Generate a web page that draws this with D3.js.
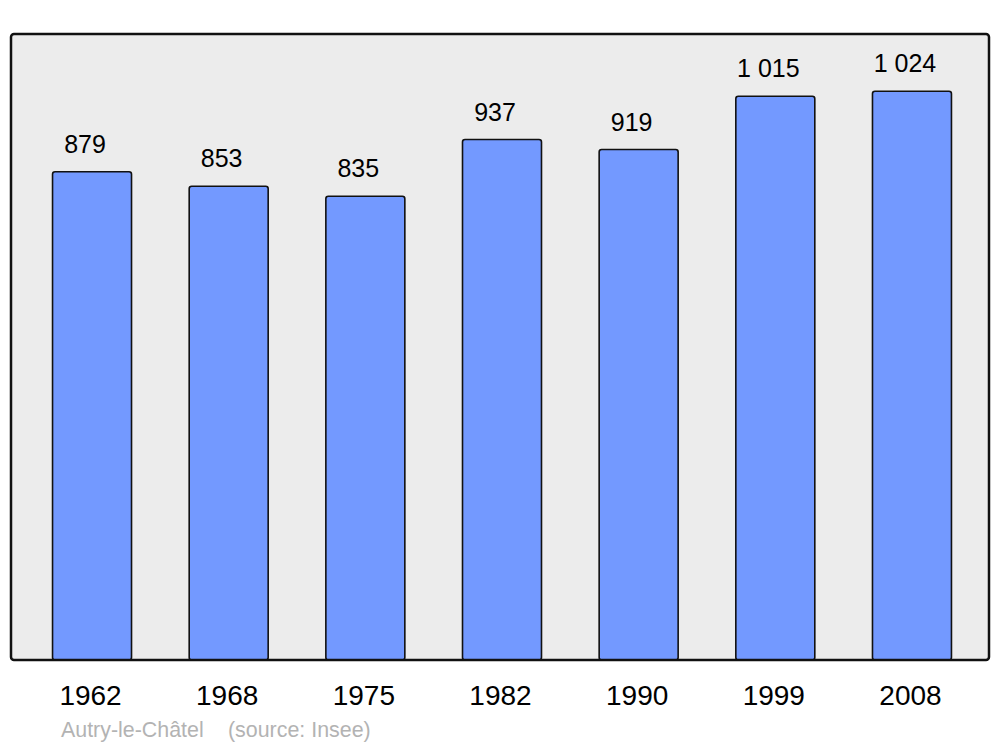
<!DOCTYPE html>
<html>
<head>
<meta charset="utf-8">
<script src="https://cdn.jsdelivr.net/npm/d3@7"></script>
<style>
  body { margin: 0; background: #fff; }
  text { font-family: "Liberation Sans", Arial, sans-serif; }
</style>
</head>
<body>
<svg id="chart"></svg>
<script>
var years = ["1962", "1968", "1975", "1982", "1990", "1999", "2008"];
var population = [879, 853, 835, 937, 919, 1015, 1024];
var commune = "Autry-le-Châtel";
var sourceNote = "(source: Insee)";

var width = 1000, height = 747;
var frame = {left: 11, right: 989, top: 34, bottom: 660};

var svg = d3.select("#chart")
    .attr("width", width)
    .attr("height", height);

// background panel
svg.append("rect")
    .attr("x", frame.left).attr("y", frame.top)
    .attr("width", frame.right - frame.left)
    .attr("height", frame.bottom - frame.top)
    .attr("rx", 3).attr("ry", 3)
    .style("fill", "#ececec");

var x = d3.scaleBand()
    .domain(years)
    .range([23.7, 980.3])
    .paddingInner(0.422)
    .paddingOuter(0.211);

var y = d3.scaleLinear()
    .domain([0, 1127])
    .range([frame.bottom, frame.top]);

var fr = d3.formatLocale({decimal: ",", thousands: " ", grouping: [3], currency: ["", " €"]});
var fmt = fr.format(",d");

var data = years.map(function (d, i) { return [d, population[i]]; });

svg.selectAll("rect.bar")
    .data(data)
    .enter()
    .append("rect")
    .attr("class", "bar")
    .attr("x", function (d) { return x(d[0]); })
    .attr("y", function (d) { return y(d[1]); })
    .attr("width", x.bandwidth())
    .attr("height", function (d) { return frame.bottom - y(d[1]); })
    .attr("rx", 2.5).attr("ry", 2.5)
    .style("fill", "#7399ff")
    .style("stroke", "#111")
    .style("stroke-width", 1.6);

// frame drawn on top
svg.append("rect")
    .attr("x", frame.left).attr("y", frame.top)
    .attr("width", frame.right - frame.left)
    .attr("height", frame.bottom - frame.top)
    .attr("rx", 3).attr("ry", 3)
    .style("fill", "none")
    .style("stroke", "#111")
    .style("stroke-width", 2.5);

svg.selectAll("text.value")
    .data(data)
    .enter()
    .append("text")
    .attr("class", "value")
    .attr("x", function (d) { return x(d[0]) + x.bandwidth() / 2 - 7; })
    .attr("y", function (d) { return y(d[1]) - 19; })
    .attr("text-anchor", "middle")
    .style("font-size", "25px")
    .style("fill", "#000")
    .text(function (d) { return fmt(d[1]); });

svg.selectAll("text.year")
    .data(years)
    .enter()
    .append("text")
    .attr("class", "year")
    .attr("x", function (d) { return x(d) + x.bandwidth() / 2 - 1.5; })
    .attr("y", 705)
    .attr("text-anchor", "middle")
    .style("font-size", "28px")
    .style("fill", "#000")
    .text(function (d) { return d; });

svg.append("text")
    .attr("x", 61).attr("y", 737)
    .style("font-size", "21.4px")
    .style("fill", "#b3b3b3")
    .text(commune);

svg.append("text")
    .attr("x", 228).attr("y", 737)
    .style("font-size", "21.4px")
    .style("fill", "#b3b3b3")
    .text(sourceNote);
</script>
</body>
</html>
